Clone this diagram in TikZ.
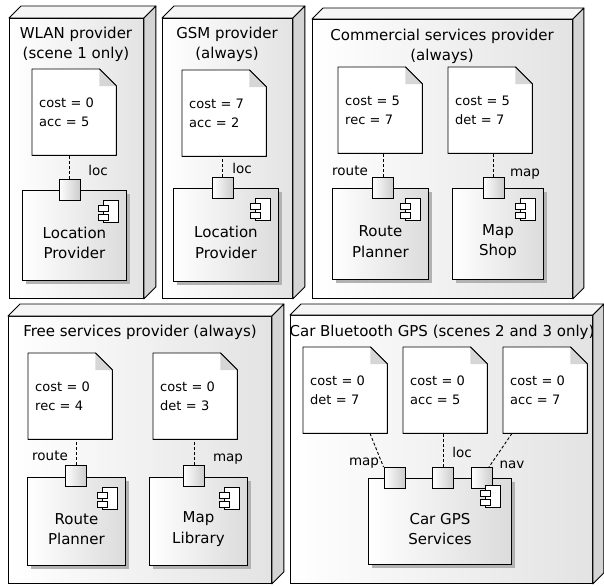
\documentclass[tikz,border=0pt]{standalone}
\usepackage{fontspec}
\setmainfont{DejaVu Sans}
\usetikzlibrary{calc,shadows}
\pgfdeclarelayer{boxes}
\pgfdeclarelayer{notes}
\pgfsetlayers{boxes,notes,main}
\newcommand\devfaces[2]{%
  \draw[facetop] (#1.north west) -- ++(#2pt,#2pt) -- ([shift={(#2pt,#2pt)}]#1.north east) -- (#1.north east) -- cycle;
  \draw[faceside] (#1.north east) -- ++(#2pt,#2pt) -- ([shift={(#2pt,#2pt)}]#1.south east) -- (#1.south east) -- cycle;}
\newcommand\notedecor[1]{%
  \begin{pgfonlayer}{notes}
  \filldraw[noteshape] (#1.north west) -- ([xshift=-17pt]#1.north east) -- ([yshift=-17pt]#1.north east) -- (#1.south east) -- (#1.south west) -- cycle;
  \fill[black!16] ([xshift=-17pt]#1.north east) -- ([yshift=-17pt]#1.north east) -- ([xshift=-17pt,yshift=-17pt]#1.north east) -- cycle;
  \draw[line width=0.9pt] ([xshift=-17pt]#1.north east) -- ([yshift=-17pt]#1.north east);
  \end{pgfonlayer}}
\tikzset{
  devbox/.style={draw=black, line width=0.9pt, left color=white, right color=black!11, inner sep=0pt, anchor=north west},
  facetop/.style={draw=black, line width=0.9pt, fill=black!4, line join=round},
  faceside/.style={draw=black, line width=0.9pt, fill=black!17, line join=round},
  boxtitle/.style={align=center, font=\fontsize{15}{20}\selectfont, inner sep=0pt},
  notebox/.style={anchor=north west, minimum width=84pt, minimum height=86pt, text width=70pt, inner xsep=7pt, inner ysep=0pt, align=left, font=\fontsize{13}{19}\selectfont},
  noteshape/.style={draw=black, line width=0.9pt, fill=white, line join=round},
  comp/.style={draw=black, line width=0.9pt, left color=white, right color=black!14, anchor=north west, inner sep=0pt,
    drop shadow={shadow xshift=4pt, shadow yshift=-4pt, fill=black!30, opacity=1}},
  comptext/.style={align=center, font=\fontsize{15}{20.5}\selectfont, inner sep=0pt},
  port/.style={draw=black, line width=0.9pt, left color=white, right color=black!20, minimum size=21pt, inner sep=0pt},
  plabel/.style={font=\fontsize{13.5}{16}\selectfont, inner sep=0pt},
  link/.style={line width=0.9pt, dash pattern=on 3pt off 2pt},
  compicon/.pic={
    \draw[line width=0.8pt, fill=white] (-15,0) rectangle (0,22);
    \draw[line width=0.8pt, fill=white] (-20,5) rectangle (-10,11);
    \draw[line width=0.8pt, fill=white] (-20,14) rectangle (-10,20);
  }
}
\begin{document}
\begin{tikzpicture}[x=1pt,y=-1pt,line width=0.9pt]
\useasboundingbox (0,0) rectangle (604,586);

% ---------- deployment nodes ----------
\begin{pgfonlayer}{boxes}
\node[devbox, minimum width=134pt, minimum height=280pt] (wlan) at (9,18) {};
\devfaces{wlan}{12}
\node[devbox, minimum width=130pt, minimum height=280pt] (gsm) at (162,18) {};
\devfaces{gsm}{12}
\node[devbox, minimum width=260pt, minimum height=279pt] (comm) at (312,19) {};
\devfaces{comm}{11}
\node[devbox, minimum width=263pt, minimum height=267pt] (free) at (8,316) {};
\devfaces{free}{12}
\node[devbox, minimum width=302pt, minimum height=268pt] (car) at (290,315) {};
\devfaces{car}{11}
\end{pgfonlayer}

\node[boxtitle] (wlant) at (76,44) {WLAN provider\\(scene 1 only)};
\node[boxtitle] (gsmt) at (227,44) {GSM provider\\(always)};
\node[boxtitle] (commt) at (442,46) {Commercial services provider\\(always)};
\node[boxtitle] (freet) at (140,332) {Free services provider (always)};
\node[boxtitle] (cart) at (442,332) {Car Bluetooth GPS (scenes 2 and 3 only)};

% ---------- WLAN ----------
\node[notebox] (n1) at (32,69) {cost = 0\\acc = 5};
\notedecor{n1}
\node[comp, minimum width=104pt, minimum height=90pt] (c1) at (22,190) {};
\node[comptext] (c1t) at ($(c1.center)+(0,7.5)$) {Location\\Provider};
\pic at ($(c1.north east)+(-9,10)$) {compicon};
\node[port] (p1) at (69.5,190) {};
\draw[link] (p1.north) -- (p1.north |- n1.south);
\node[plabel] (l1) at (98,170) {loc};

% ---------- GSM ----------
\node[notebox] (n2) at (182,70) {cost = 7\\acc = 2};
\notedecor{n2}
\node[comp, minimum width=105pt, minimum height=93pt] (c2) at (173,188) {};
\node[comptext] (c2t) at ($(c2.center)+(0,7.5)$) {Location\\Provider};
\pic at ($(c2.north east)+(-9,10)$) {compicon};
\node[port] (p2) at (222.5,188) {};
\draw[link] (p2.north) -- (p2.north |- n2.south);
\node[plabel] (l2) at (242,168) {loc};

% ---------- Commercial ----------
\node[notebox] (n3) at (338,67) {cost = 5\\rec = 7};
\notedecor{n3}
\node[notebox] (n4) at (448,67) {cost = 5\\det = 7};
\notedecor{n4}
\node[comp, minimum width=96pt, minimum height=91pt] (c3) at (332,188) {};
\node[comptext] (c3t) at ($(c3.center)+(0,7.5)$) {Route\\Planner};
\pic at ($(c3.north east)+(-9,10)$) {compicon};
\node[comp, minimum width=91pt, minimum height=91pt] (c4) at (452,188) {};
\node[comptext] (c4t) at ($(c4.center)+(0,7.5)$) {Map\\Shop};
\pic at ($(c4.north east)+(-9,10)$) {compicon};
\node[port] (p3) at (383,188) {};
\node[port] (p4) at (493.5,188) {};
\draw[link] (p3.north) -- (p3.north |- n3.south);
\draw[link] (p4.north) -- (p4.north |- n4.south);
\node[plabel] (l3) at (350,171) {route};
\node[plabel] (l4) at (525,174) {map};

% ---------- Free ----------
\node[notebox] (n5) at (28,353) {cost = 0\\rec = 4};
\notedecor{n5}
\node[notebox] (n6) at (153,353) {cost = 0\\det = 3};
\notedecor{n6}
\node[comp, minimum width=98pt, minimum height=88pt] (c5) at (27,477) {};
\node[comptext] (c5t) at ($(c5.center)+(0,7.5)$) {Route\\Planner};
\pic at ($(c5.north east)+(-9,10)$) {compicon};
\node[comp, minimum width=98pt, minimum height=88pt] (c6) at (149,477) {};
\node[comptext] (c6t) at ($(c6.center)+(0,7.5)$) {Map\\Library};
\pic at ($(c6.north east)+(-9,10)$) {compicon};
\node[port] (p5) at (76,476) {};
\node[port] (p6) at (194,476) {};
\draw[link] (p5.north) -- (p5.north |- n5.south);
\draw[link] (p6.north) -- (p6.north |- n6.south);
\node[plabel] (l5) at (50,456) {route};
\node[plabel] (l6) at (228,459) {map};

% ---------- Car ----------
\node[notebox] (n7) at (303,347) {cost = 0\\det = 7};
\notedecor{n7}
\node[notebox] (n8) at (403,347) {cost = 0\\acc = 5};
\notedecor{n8}
\node[notebox] (n9) at (503,347) {cost = 0\\acc = 7};
\notedecor{n9}
\node[comp, minimum width=143pt, minimum height=86pt] (c7) at (368,478) {};
\node[comptext] (c7t) at ($(c7.center)+(0,7.5)$) {Car GPS\\Services};
\node[port] (p7) at (394.5,478) {};
\node[port] (p8) at (443,478) {};
\node[port] (p9) at (482,478) {};
\pic at ($(c7.north east)+(-12,7)$) {compicon};
\draw[link] ($(n7.south west)+(67,0)$) -- (p7.north west);
\draw[link] (p8.north) -- (p8.north |- n8.south);
\draw[link] ($(n9.south west)+(9,0)$) -- ($(p9.north east)+(-4,0)$);
\node[plabel] (l7) at (364,463) {map};
\node[plabel] (l8) at (462,452) {loc};
\node[plabel] (l9) at (512,465) {nav};
\end{tikzpicture}
\end{document}
